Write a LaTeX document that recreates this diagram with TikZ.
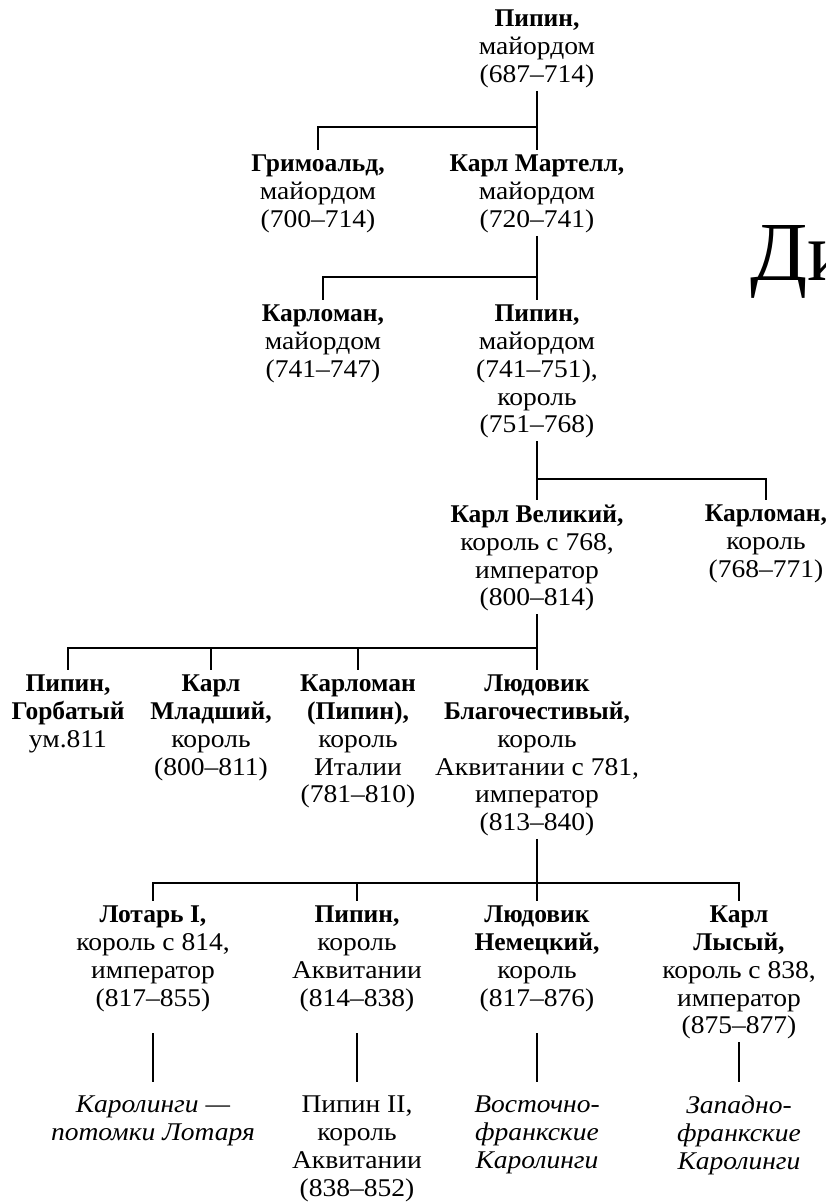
\documentclass[tikz,border=0pt]{standalone}
\usepackage{fontspec}
\setmainfont{Liberation Serif}[FakeStretch=1.08,BoldFeatures={FakeStretch=1.0}]
\newfontfamily\bigfont{Liberation Serif}

\begin{document}
\begin{tikzpicture}[x=1pt,y=-1pt,
		person/.style={anchor=north,align=center,inner sep=0pt,
			font=\fontsize{25.5}{27.7}\selectfont,execute at begin node=\strut},
		link/.style={line width=1.8pt},
		drop/.style={link,shorten >=5pt},
		tail/.style={link,shorten >=14pt}]
	\useasboundingbox (0,0) rectangle (826,1204);

	\node[anchor=base west,inner sep=0pt,font=\bigfont\fontsize{84}{84}\selectfont] (title) at (750,280) {Ди};

	\node[person] (pip1) at (537,10) {{\bf Пипин,}\\майордом\\(687–714)};
	\node[person] (grim) at (318,155) {{\bf Гримоальд,}\\майордом\\(700–714)};
	\node[person] (mart) at (537,155) {{\bf Карл Мартелл,}\\майордом\\(720–741)};
	\node[person] (kman1) at (323,305) {{\bf Карломан,}\\майордом\\(741–747)};
	\node[person] (pip3) at (537,305) {{\bf Пипин,}\\майордом\\(741–751),\\король\\(751–768)};
	\node[person] (vel) at (537,505) {{\bf Карл Великий,}\\король с 768,\\император\\(800–814)};
	\node[person] (kman2) at (766,505) {{\bf Карломан,}\\король\\(768–771)};
	\node[person] (gorb) at (68,675) {{\bf Пипин,}\\{\bf Горбатый}\\ум.811};
	\node[person] (ml) at (211,675) {{\bf Карл}\\{\bf Младший,}\\король\\(800–811)};
	\node[person] (ital) at (358,675) {{\bf Карломан}\\{\bf (Пипин),}\\король\\Италии\\(781–810)};
	\node[person] (lud) at (537,675) {{\bf Людовик}\\{\bf Благочестивый,}\\король\\Аквитании с 781,\\император\\(813–840)};
	\node[person] (lot) at (153,906) {{\bf Лотарь I,}\\король с 814,\\император\\(817–855)};
	\node[person] (pip5) at (357,906) {{\bf Пипин,}\\король\\Аквитании\\(814–838)};
	\node[person] (nem) at (537,906) {{\bf Людовик}\\{\bf Немецкий,}\\король\\(817–876)};
	\node[person] (lys) at (739,906) {{\bf Карл}\\{\bf Лысый,}\\король с 838,\\император\\(875–877)};
	\node[person] (d1) at (153,1096) {\emph{Каролинги —}\\\emph{потомки Лотаря}};
	\node[person] (d2) at (357,1096) {Пипин II,\\король\\Аквитании\\(838–852)};
	\node[person] (d3) at (537,1096) {\emph{Восточно-}\\\emph{франкские}\\\emph{Каролинги}};
	\node[person] (d4) at (739,1096) {\emph{Западно-}\\\emph{франкские}\\\emph{Каролинги}};

	\coordinate (bus1) at (0,127);
	\coordinate (bus2) at (0,277);
	\coordinate (bus3) at (0,479);
	\coordinate (bus4) at (0,648);
	\coordinate (bus5) at (0,883);
	\coordinate (tails) at (0,1033);

	\draw[drop] (pip1.south) -- (mart.north);
	\draw[drop] (pip1.south |- bus1) -| (grim.north);
	\draw[drop] (mart.south) -- (pip3.north);
	\draw[drop] (mart.south |- bus2) -| (kman1.north);
	\draw[drop] (pip3.south) -- (vel.north);
	\draw[drop] (pip3.south |- bus3) -| (kman2.north);
	\draw[drop] (vel.south) -- (lud.north);
	\draw[drop] (vel.south |- bus4) -| (gorb.north);
	\foreach \c in {ml,ital}
		\draw[drop] (bus4 -| \c) -- (\c.north);
	\draw[drop] (lud.south) -- (nem.north);
	\draw[drop] (bus5 -| nem) -| (lot.north);
	\draw[drop] (bus5 -| nem) -| (lys.north);
	\draw[drop] (bus5 -| pip5) -- (pip5.north);
	\foreach \a/\b in {lot/d1,pip5/d2,nem/d3}
		\draw[tail] (tails -| \a) -- (\b.north);
	\draw[tail] (lys.south) -- (d4.north);
\end{tikzpicture}
\end{document}
